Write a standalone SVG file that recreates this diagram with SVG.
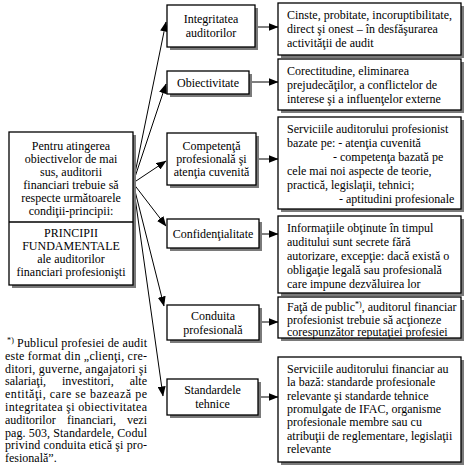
<svg xmlns="http://www.w3.org/2000/svg" width="465" height="469" viewBox="0 0 465 469">
<style>
.box{fill:#fff;stroke:#000;stroke-width:1.3}
.sh{fill:#7a7a7a}
text{font-family:"Liberation Serif","Times New Roman",serif;font-size:12px;fill:#000}
.c{text-anchor:middle}
.e{text-anchor:end}
.conn{stroke:#000;stroke-width:1;fill:none;marker-end:url(#ah)}
.div{stroke:#000;stroke-width:1.3}
</style>
<defs>
<marker id="ah" markerWidth="10" markerHeight="8" refX="9.5" refY="4" orient="auto" markerUnits="userSpaceOnUse">
<path d="M0,0 L10,4 L0,8 z" fill="#000"/>
</marker>
</defs>
<rect width="465" height="469" fill="#fff"/>

<g id="connectors">
<path class="conn" d="M133,183 L166,22"/>
<path class="conn" d="M133,183 L166,84"/>
<path class="conn" d="M133,183 L166,161"/>
<path class="conn" d="M133,183 L166,226"/>
<path class="conn" d="M133,183 L164,306"/>
<path class="conn" d="M133,183 L163,396"/>
<path class="conn" d="M257,27 L278,27"/>
<path class="conn" d="M251,82 L278,82"/>
<path class="conn" d="M258,159 L278,159"/>
<path class="conn" d="M262,234 L278,234"/>
<path class="conn" d="M262,322 L278,322"/>
<path class="conn" d="M261,397 L278,397"/>
</g>

<g id="principii">
<rect class="sh" x="12" y="135" width="124" height="153"/>
<rect class="box" x="9" y="132" width="124" height="153"/>
<line class="div" x1="9" y1="222" x2="133" y2="222"/>
<text class="c" x="71" y="150">Pentru atingerea</text>
<text class="c" x="71" y="163">obiectivelor de mai</text>
<text class="c" x="71" y="176">sus, auditorii</text>
<text class="c" x="71" y="189">financiari trebuie să</text>
<text class="c" x="71" y="202">respecte următoarele</text>
<text class="c" x="71" y="215">condiţii-principii:</text>
<text class="c" x="71" y="237">PRINCIPII</text>
<text class="c" x="71" y="250">FUNDAMENTALE</text>
<text class="c" x="71" y="263">ale auditorilor</text>
<text class="c" x="71" y="276">financiari profesionişti</text>
</g>

<g id="integritatea">
<rect class="sh" x="170" y="8" width="88" height="42"/>
<rect class="box" x="167" y="5" width="88" height="42"/>
<text class="c" x="211" y="23">Integritatea</text>
<text class="c" x="211" y="37">auditorilor</text>
</g>
<g id="obiectivitate">
<rect class="sh" x="170" y="74" width="82" height="23"/>
<rect class="box" x="167" y="71" width="82" height="23"/>
<text class="c" x="208" y="87">Obiectivitate</text>
</g>
<g id="competenta">
<rect class="sh" x="170" y="136" width="89" height="52"/>
<rect class="box" x="167" y="133" width="89" height="52"/>
<text class="c" x="211.5" y="150">Competenţă</text>
<text class="c" x="211.5" y="163">profesională şi</text>
<text class="c" x="211.5" y="176">atenţia cuvenită</text>
</g>
<g id="confidentialitate">
<rect class="sh" x="170" y="222" width="92" height="29"/>
<rect class="box" x="167" y="219" width="92" height="29"/>
<text class="c" x="213" y="238">Confidenţialitate</text>
</g>
<g id="conduita">
<rect class="sh" x="170" y="308" width="92" height="35"/>
<rect class="box" x="167" y="305" width="92" height="35"/>
<text class="c" x="213" y="320">Conduita</text>
<text class="c" x="213" y="334">profesională</text>
</g>
<g id="standardele">
<rect class="sh" x="170" y="382" width="91" height="36"/>
<rect class="box" x="167" y="379" width="91" height="36"/>
<text class="c" x="212.5" y="394">Standardele</text>
<text class="c" x="212.5" y="408">tehnice</text>
</g>

<g id="desc-integritatea">
<rect class="sh" x="281" y="6" width="183" height="52"/>
<rect class="box" x="278" y="3" width="183" height="52"/>
<text x="287" y="19">Cinste, probitate, incoruptibilitate,</text>
<text x="287" y="33">direct şi onest – în desfăşurarea</text>
<text x="287" y="47">activităţii de audit</text>
</g>
<g id="desc-obiectivitate">
<rect class="sh" x="281" y="62" width="183" height="51"/>
<rect class="box" x="278" y="59" width="183" height="51"/>
<text x="287" y="75">Corectitudine, eliminarea</text>
<text x="287" y="89">prejudecăţilor, a conflictelor de</text>
<text x="287" y="103">interese şi a influenţelor externe</text>
</g>
<g id="desc-competenta">
<rect class="sh" x="281" y="120" width="183" height="92"/>
<rect class="box" x="278" y="117" width="183" height="92"/>
<text x="287" y="133">Serviciile auditorului profesionist</text>
<text x="287" y="147">bazate pe: - atenţia cuvenită</text>
<text x="333" y="161">- competenţa bazată pe</text>
<text x="287" y="175">cele mai noi aspecte de teorie,</text>
<text x="287" y="189">practică, legislaţii, tehnici;</text>
<text x="339" y="203">- aptitudini profesionale</text>
</g>
<g id="desc-confidentialitate">
<rect class="sh" x="281" y="219" width="183" height="77"/>
<rect class="box" x="278" y="216" width="183" height="77"/>
<text x="287" y="232">Informaţiile obţinute în timpul</text>
<text x="287" y="246">auditului sunt secrete fără</text>
<text x="287" y="260">autorizare, excepţie: dacă există o</text>
<text x="287" y="274">obligaţie legală sau profesională</text>
<text x="287" y="288">care impune dezvăluirea lor</text>
</g>
<g id="desc-conduita">
<rect class="sh" x="281" y="300" width="183" height="41"/>
<rect class="box" x="278" y="297" width="183" height="41"/>
<text x="287" y="311">Faţă de public<tspan font-size="8" dy="-4">*)</tspan><tspan dy="4">, auditorul financiar</tspan></text>
<text x="287" y="323.5">profesionist trebuie să acţioneze</text>
<text x="287" y="336">corespunzător reputaţiei profesiei</text>
</g>
<g id="desc-standardele">
<rect class="sh" x="281" y="360" width="183" height="105"/>
<rect class="box" x="278" y="357" width="183" height="105"/>
<text x="287" y="373">Serviciile auditorului financiar au</text>
<text x="287" y="386.3">la bază: standarde profesionale</text>
<text x="287" y="399.6">relevante şi standarde tehnice</text>
<text x="287" y="412.9">promulgate de IFAC, organisme</text>
<text x="287" y="426.2">profesionale membre sau cu</text>
<text x="287" y="439.5">atribuţii de reglementare, legislaţii</text>
<text x="287" y="452.8">relevante</text>
</g>

<g id="footnote">
<text x="7" y="347" textLength="140" lengthAdjust="spacing"><tspan font-size="8" dy="-4">*)</tspan><tspan dy="4"> Publicul profesiei de audit</tspan></text>
<text x="5" y="359.8" textLength="142" lengthAdjust="spacing">este format din „clienţi, cre-</text>
<text x="5" y="372.6" textLength="142" lengthAdjust="spacing">ditori, guverne, angajatori şi</text>
<text x="5" y="385.4">salariaţi,</text>
<text x="62" y="385.4">investitori,</text>
<text class="e" x="147" y="385.4">alte</text>
<text x="5" y="398.2" textLength="142" lengthAdjust="spacing">entităţi, care se bazează pe</text>
<text x="5" y="411" textLength="142" lengthAdjust="spacing">integritatea şi obiectivitatea</text>
<text x="5" y="423.8">auditorilor</text>
<text x="67" y="423.8">financiari,</text>
<text class="e" x="147" y="423.8">vezi</text>
<text x="5" y="436.6" textLength="142" lengthAdjust="spacing">pag. 503, Standardele, Codul</text>
<text x="5" y="449.4" textLength="142" lengthAdjust="spacing">privind conduita etică şi pro-</text>
<text x="5" y="462.2">fesională”.</text>
</g>
</svg>
